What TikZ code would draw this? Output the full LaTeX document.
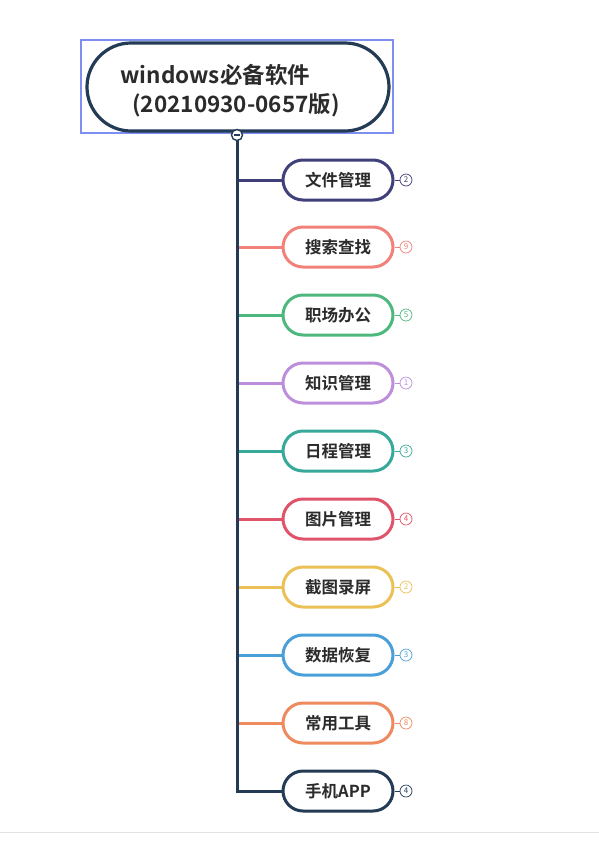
\documentclass[tikz,border=0pt]{standalone}
\usepackage{fontspec}
\setmainfont{Noto Sans CJK SC}
\newfontfamily\cjkb{Noto Sans CJK SC Bold}
\definecolor{navy}{HTML}{243B55}
\definecolor{cA}{HTML}{40407A}
\definecolor{cB}{HTML}{F2817A}
\definecolor{cC}{HTML}{4DB87D}
\definecolor{cD}{HTML}{BD8FDB}
\definecolor{cE}{HTML}{37A99B}
\definecolor{cF}{HTML}{E0546A}
\definecolor{cG}{HTML}{EBC155}
\definecolor{cH}{HTML}{4A9FD8}
\definecolor{cI}{HTML}{EE8A5E}
\definecolor{txt}{HTML}{2B2B2B}
\definecolor{selblue}{HTML}{7F8FF0}
\definecolor{sepgrey}{HTML}{E2E2E2}
\tikzset{
  branchbox/.style={draw=#1, line width=3pt, fill=white, rounded corners=20pt,
    minimum width=110pt, minimum height=40pt, inner sep=0pt,
    font=\cjkb\fontsize{16.5}{18}\selectfont, text=txt},
  branchline/.style={draw=#1, line width=3pt},
  countbubble/.style={draw=#1, line width=0.7pt, circle, fill=white, minimum size=12pt,
    inner sep=0pt, text=#1, font=\fontsize{8}{8}\selectfont},
  tickline/.style={draw=#1, line width=0.8pt},
}
\begin{document}
\begin{tikzpicture}[x=1pt,y=-1pt]
\useasboundingbox (0,0) rectangle (599,847);
\fill[white] (0,0) rectangle (599,847);
\draw[sepgrey, line width=1pt] (0,832) -- (599,832);
% root
\node[draw=selblue, line width=1.4pt, minimum width=312pt, minimum height=93pt, inner sep=0pt] (sel) at (237,86.5) {};
\node[draw=navy, line width=3.2pt, fill=white, rounded corners=44pt, minimum width=302pt, minimum height=88pt,
  inner sep=0pt, align=left, font=\cjkb\fontsize{22.5}{29}\selectfont, text=txt] (root) at (238,87)
  {\rule{0pt}{26pt}windows必备软件\\\hspace*{12pt}(20210930-0657版)\hspace*{16pt}};
% branches
\foreach \i/\y/\c/\t/\n in {1/180/cA/文件管理/2, 2/247/cB/搜索查找/9, 3/315/cC/职场办公/5,
    4/383/cD/知识管理/1, 5/451/cE/日程管理/3, 6/519/cF/图片管理/4, 7/587/cG/截图录屏/2,
    8/655/cH/数据恢复/3, 9/723/cI/常用工具/8, 10/791/navy/手机APP/4} {
  \node[branchbox=\c] (n\i) at (338,\y) {\t};
  \node[countbubble=\c] (k\i) at (406,\y) {\n};
  \draw[tickline=\c] (n\i.east) -- (k\i.west);
}
\coordinate (trunktop) at (237,135);
\foreach \i/\c in {1/cA,2/cB,3/cC,4/cD,5/cE,6/cF,7/cG,8/cH,9/cI} {
  \draw[branchline=\c] (trunktop |- n\i.west) -- (n\i.west);
}
\draw[navy, line width=3pt] (trunktop) |- (n10.west);
\node[circle, draw=navy, line width=1.4pt, fill=white, minimum size=11pt, inner sep=0pt] (collapse) at (trunktop) {};
\draw[navy, line width=1.4pt] ([xshift=-3pt]collapse.center) -- ([xshift=3pt]collapse.center);
\end{tikzpicture}
\end{document}
